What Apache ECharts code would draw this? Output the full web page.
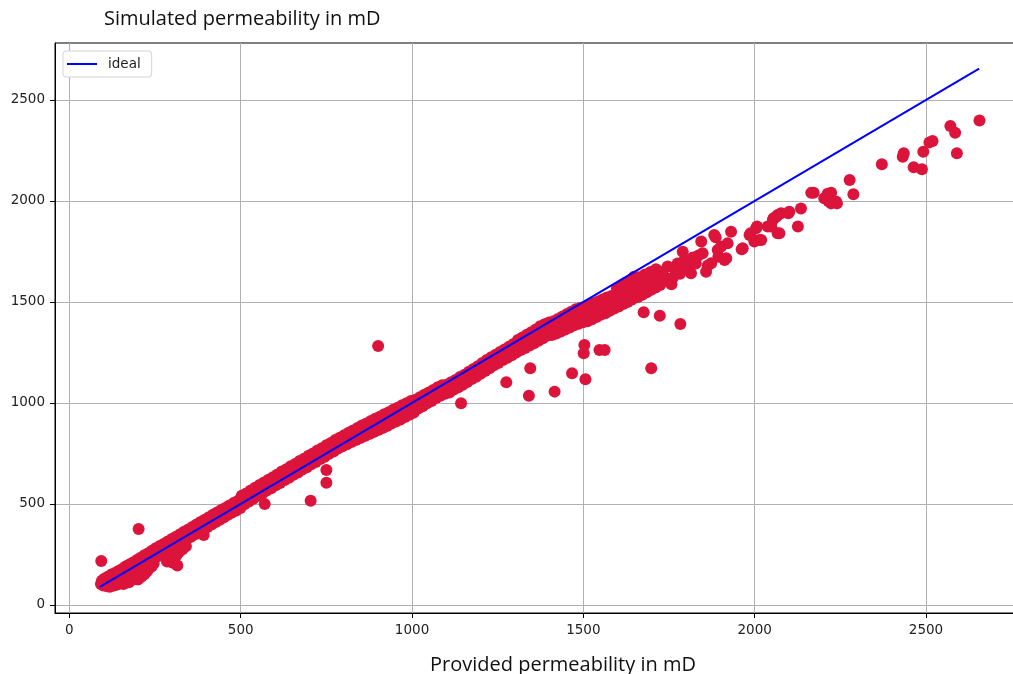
<!DOCTYPE html>
<html>
<head>
<meta charset="utf-8">
<script src="https://cdn.jsdelivr.net/npm/echarts@6/dist/echarts.min.js"></script>
<style>
html,body{margin:0;padding:0;background:#fff;overflow:hidden;width:1013px;height:674px;}
#chart{width:1023px;height:674px;}
</style>
</head>
<body>
<div id="chart"></div>
<script>
// ---- data ----
const titleText = 'Simulated permeability in mD';
const xLabelText = 'Provided permeability in mD';
const xTicks = [0, 500, 1000, 1500, 2000, 2500];
const yTicks = [0, 500, 1000, 1500, 2000, 2500];

// ideal line: provided == simulated
const idealX = [88, 2655];
const idealY = [88, 2655];

// scatter points [provided, simulated]
const bandLow = [
[92,104],[95,120],[99,96],[102,130],[105,110],[109,100],[112,140],[115,118],[119,104],[122,150],[126,128],[129,112],[133,158],[136,140],[140,122],[143,168],[147,150],[150,132],[154,178],[157,160],[161,142],[164,190],[168,170],[171,152],[175,200],[178,182],[182,162],[186,210],[189,192],[193,174],[197,222],[200,204],[204,186],[208,234],[211,214],[215,198],[219,246],[222,226],[226,208],[230,256],[233,238],[237,220],[241,268],[245,250],[248,230],[252,280],[256,262],[260,242],[264,292],[267,272],[271,254],[275,302],[279,284],[283,266],[287,314],[291,296],[295,278],[299,326],[303,308],[307,290],[311,338],[315,320],[319,302],[323,350],[327,332],[331,314],[335,362],[339,344],[343,326],[347,374],[351,356],[355,338],[359,386],[363,368],[367,350],[371,398],[375,380],[379,362],[383,410],[387,392],[391,374],[395,422],[399,404],[403,386],[407,434],[411,416],[415,398],[419,446],[423,428],[427,410],[431,458],[435,440],[439,422],[443,470],[447,452],[451,434],[455,480],[459,464],[463,446],[467,492],[471,474],[475,458],[479,504],[483,486],[487,468],[491,514],[495,498],[499,480]
];
const bandLowBulge = [
[110,92],[118,90],[126,95],[134,98],[142,102],[150,110],[158,104],[166,118],[174,112],[182,125],[190,130],[200,126],[210,140],[218,150],[226,165],[232,180],[240,190],[246,205],[212,175],[220,186],[228,200],[285,215],[290,232],[295,250],[300,210],[306,228],[312,245],[320,262],[330,275],[340,290]
];
const bandMid = [
[503,540],[507,516],[511,498],[516,552],[520,530],[524,512],[529,566],[533,544],[537,526],[542,580],[546,558],[550,540],[555,594],[559,572],[563,552],[568,606],[572,584],[576,566],[581,620],[585,598],[589,578],[594,632],[598,610],[602,592],[607,646],[611,624],[615,604],[620,660],[624,636],[628,618],[633,672],[637,650],[641,630],[646,686],[650,662],[654,644],[659,698],[663,676],[667,656],[672,712],[676,688],[680,670],[685,724],[689,702],[693,682],[698,738],[702,714],[706,696],[711,750],[715,728],[719,708],[724,764],[728,740],[732,722],[737,776],[741,754],[745,734],[750,790],[754,766],[758,748],[763,802],[767,780],[771,760],[776,816],[780,792],[784,774],[789,828],[793,806],[797,786],
[802,840],[806,818],[810,796],[815,852],[819,830],[823,806],[828,864],[832,842],[836,816],[841,876],[845,852],[849,826],[854,888],[858,862],[862,836],[867,898],[871,872],[875,846],[880,910],[884,884],[888,856],[893,922],[897,894],[901,866],[906,932],[910,906],[914,876],[919,944],[923,916],[927,886],[932,954],[936,928],[940,898],[945,966],[949,938],[953,908],[958,976],[962,950],[966,918],[971,988],[975,960],[979,930],[984,998],[988,970],[992,942],[997,1010],[1001,982],[1005,952]
];
const bandUpper = [
[1010,1016],[1014,994],[1018,972],[1023,1028],[1027,1006],[1031,984],[1036,1040],[1040,1020],[1044,998],[1049,1052],[1053,1032],[1057,1010],[1062,1064],[1066,1044],[1070,1024],[1075,1078],[1079,1056],[1083,1036],[1088,1088],[1092,1068],[1096,1046],[1101,1090],[1105,1072],[1109,1052],[1114,1102],[1118,1084],[1122,1066],[1127,1114],[1131,1098],[1135,1078],[1140,1128],[1144,1110],[1148,1090],[1153,1140],[1157,1124],[1161,1104],[1166,1154],[1170,1136],[1174,1118],[1179,1168],[1183,1150],[1187,1130],[1192,1182],[1196,1164],[1200,1144],[1205,1198],[1209,1178],[1213,1158],[1218,1212],[1222,1192],[1226,1172],[1231,1226],[1235,1206],[1239,1186],[1244,1238],[1248,1220],[1252,1198],[1257,1252],[1261,1232],[1265,1212],[1270,1264],[1274,1246],[1278,1224],[1283,1278],[1287,1258],[1291,1236],[1296,1292],[1300,1270],[1304,1250],
[1309,1312],[1313,1288],[1317,1262],[1322,1324],[1326,1300],[1330,1272],[1335,1338],[1339,1312],[1343,1284],[1348,1350],[1352,1326],[1356,1296],[1361,1364],[1365,1338],[1369,1308],[1374,1380],[1378,1350],[1382,1320],[1387,1390],[1391,1362],[1395,1334],[1400,1398],[1404,1366],[1408,1336],[1413,1404],[1417,1376],[1421,1344],[1426,1416],[1430,1386],[1434,1354],[1439,1428],[1443,1396],[1447,1364],[1452,1440],[1456,1406],[1460,1374],[1465,1452],[1469,1418],[1473,1384],[1478,1464],[1482,1428],[1486,1392],[1491,1470],[1495,1434],[1499,1400],[1504,1476],[1508,1440],[1512,1404],[1517,1486],[1521,1450],[1525,1414],[1530,1494],[1534,1462],[1538,1426],[1543,1502],[1547,1470],[1551,1436]
];
const bandHigh = [
[1556,1512],[1560,1478],[1564,1444],[1569,1522],[1573,1490],[1577,1456],[1582,1530],[1586,1500],[1590,1468],[1595,1540],[1599,1510],[1603,1478],[1608,1550],[1612,1520],[1616,1490],[1621,1560],[1625,1530],[1629,1500],[1634,1570],[1638,1540],[1642,1512],[1648,1625],[1651,1582],[1655,1552],[1659,1524],[1664,1594],[1668,1564],[1672,1536],[1677,1606],[1681,1576],[1685,1548],[1690,1618],[1694,1588],[1698,1560],[1703,1630],[1707,1600],[1711,1572],[1716,1640],[1720,1612],[1724,1584],
[1598,1568],[1615,1585],[1632,1598],[1646,1610],[1662,1622],[1680,1636],[1696,1648],[1712,1662]
];
const sparseHigh = [
[1730,1650],[1738,1622],[1746,1675],[1752,1600],[1757,1588],[1761,1620],[1768,1660],[1775,1690],[1782,1640],[1790,1749],[1795,1708],[1800,1672],[1808,1700],[1814,1642],[1820,1720],[1828,1690],[1836,1730],[1844,1799],[1848,1741],[1858,1650],[1863,1680],[1873,1691],[1882,1832],[1886,1820],[1892,1757],[1894,1724],[1902,1774],[1912,1708],[1917,1716],[1921,1790],[1931,1848],[1962,1761],[1965,1766],[1985,1832],[1988,1840],[1999,1799],[2004,1865],[2007,1873],[2014,1807],[2019,1807],[2038,1873],[2048,1873],[2053,1906],[2055,1914],[2063,1922],[2067,1931],[2067,1840],[2072,1840],[2077,1939],[2098,1939],[2101,1947],[2126,1873],[2135,1963],[2165,2040],[2172,2041],[2203,2013],[2213,2036],[2223,2041],[2215,2000],[2223,1988],[2237,1997],[2240,1988],[2277,2104],[2288,2033],[2371,2182],[2432,2219],[2435,2236],[2464,2167],[2488,2157],[2492,2244],[2510,2290],[2519,2297],[2571,2371],[2585,2338],[2590,2236],[2656,2398]
];
const outliers = [
[93,218],[202,376],[392,346],[315,195],[570,500],[704,516],[750,605],[750,668],[901,1282],[1143,998],[1275,1102],[1345,1172],[1341,1036],[1416,1056],[1467,1147],[1506,1117],[1501,1246],[1503,1287],[1547,1262],[1562,1262],[1698,1172],[1676,1449],[1723,1432],[1783,1391]
];

// ---- chart ----
const scatterData = [].concat(bandLow, bandLowBulge, bandMid, bandUpper, bandHigh, sparseHigh, outliers);
const idealData = idealX.map((x, i) => [x, idealY[i]]);

const chart = echarts.init(document.getElementById('chart'), null, {renderer: 'canvas', width: 1023, height: 674});
const tickFont = {fontFamily: 'DejaVu Sans', fontSize: 13.5, color: '#222', formatter: v => String(v)};
const gridLine = {show: true, lineStyle: {color: '#b0b0b0', width: 1}};

chart.setOption({
  animation: false,
  backgroundColor: '#fff',
  title: [
    {text: titleText, left: 104, top: 9, padding: 0,
     textStyle: {fontFamily: 'Open Sans', fontSize: 20, fontWeight: 'normal', color: '#111'}},
    {text: xLabelText, left: 430, top: 655, padding: 0,
     textStyle: {fontFamily: 'Open Sans', fontSize: 20, fontWeight: 'normal', color: '#111'}}
  ],
  legend: {
    data: [{name: 'ideal', icon: 'rect'}],
    left: 63, top: 51,
    padding: [6, 11, 6, 4],
    itemWidth: 30, itemHeight: 2,
    backgroundColor: '#fff',
    borderColor: '#d3d3d3', borderWidth: 1, borderRadius: 3,
    textStyle: {fontFamily: 'DejaVu Sans', fontSize: 13.5, color: '#222', padding: [0, 0, 0, 6]}
  },
  grid: {
    left: 55, top: 43, right: 0, bottom: 61,
    show: true, borderColor: '#000', borderWidth: 1, backgroundColor: 'transparent'
  },
  xAxis: {
    type: 'value', min: -42, max: 2783,
    axisLine: {show: true, onZero: false, lineStyle: {color: '#000', width: 1}},
    axisTick: {show: true, length: 5, lineStyle: {color: '#000'}, customValues: xTicks},
    axisLabel: Object.assign({margin: 10, customValues: xTicks}, tickFont),
    splitLine: gridLine
  },
  yAxis: {
    type: 'value', min: -40, max: 2782,
    axisLine: {show: true, onZero: false, lineStyle: {color: '#000', width: 1}},
    axisTick: {show: true, length: 5, lineStyle: {color: '#000'}, customValues: yTicks},
    axisLabel: Object.assign({margin: 10, customValues: yTicks}, tickFont),
    splitLine: gridLine
  },
  series: [
    {
      name: 'points', type: 'scatter', data: scatterData,
      symbol: 'circle', symbolSize: 12,
      itemStyle: {color: '#DC143C', opacity: 1},
      z: 2, silent: true
    },
    {
      name: 'ideal', type: 'line', data: idealData,
      symbol: 'none', showSymbol: false,
      lineStyle: {color: '#0000ff', width: 2},
      itemStyle: {color: '#0000ff'},
      z: 3, silent: true
    }
  ]
});
</script>
</body>
</html>
